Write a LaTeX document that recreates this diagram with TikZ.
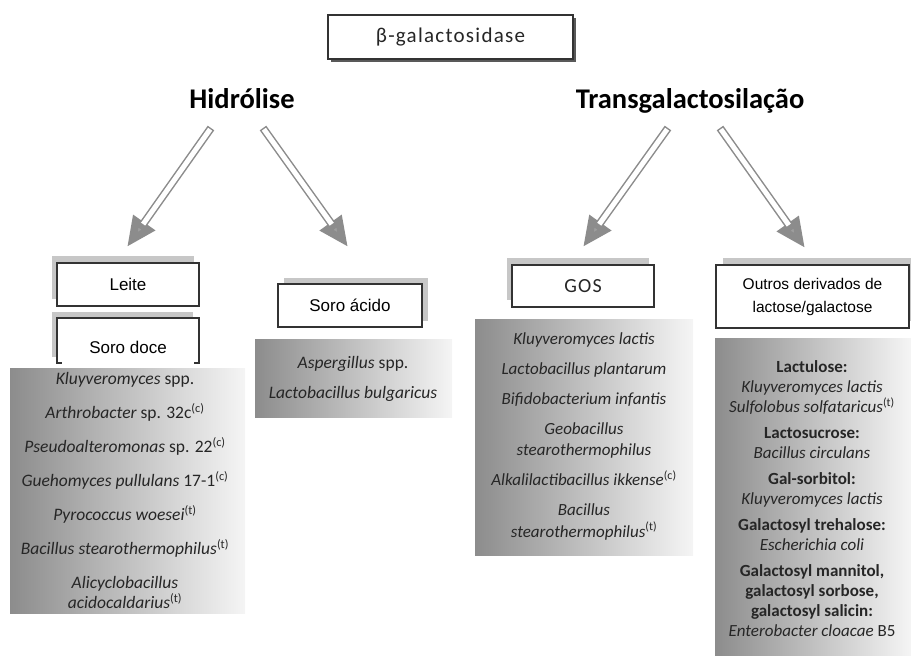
\documentclass[tikz,border=0pt]{standalone}
\usepackage{fontspec}
\setmainfont{Carlito}
\newfontfamily\arialf{Liberation Sans}
\newfontfamily\spacedf[LetterSpace=6]{Carlito}
\usetikzlibrary{arrows.meta,shadows,calc}
\begin{document}
\begin{tikzpicture}[x=1pt,y=-1pt,
  boxline/.style={draw=black!80, line width=1.6pt},
  labelbox/.style={boxline, fill=white, inner sep=0pt, font=\arialf\fontsize{17}{20}\selectfont, text=black},
  shadowul/.style={general shadow={fill=black!22, draw=none, shadow xshift=-5pt, shadow yshift=7pt}},
  shadowur/.style={general shadow={fill=black!22, draw=none, shadow xshift=6pt, shadow yshift=6pt}},
  heading/.style={font=\bfseries\fontsize{28.5}{32}\selectfont, text=black, anchor=base},
  panel/.style={draw=none, inner sep=0pt, left color=black!45, right color=black!4},
  ptext/.style={align=center, inner sep=0pt, text=black!85, font=\itshape\fontsize{17.5}{20}\selectfont},
  arrowouter/.style={draw=black!45, line width=8pt, -{Triangle[length=30pt,width=25pt,fill=black!38]}},
  arrowinner/.style={draw=white, line width=5pt, shorten >=28pt, shorten <=1.5pt}
]
\useasboundingbox (0,0) rectangle (911,659);

% top box
\node[boxline, fill=white, minimum width=245pt, minimum height=44pt, inner sep=0pt,
      general shadow={fill=black!65, draw=none, shadow xshift=3pt, shadow yshift=-3pt},
      font=\spacedf\fontsize{21}{22}\selectfont, text=black!85] (beta) at (450.5,37) {β-galactosidase};

% headings
\node[heading] (hid) at (242,108) {Hidrólise};
\node[heading] (trans) at (690,108) {Transgalactosilação};

% arrows
\coordinate (a1s) at (211,128); \coordinate (a1e) at (127,247);
\coordinate (a2s) at (263,128); \coordinate (a2e) at (348,247);
\coordinate (a3s) at (668,128); \coordinate (a3e) at (583,247);
\coordinate (a4s) at (720,128); \coordinate (a4e) at (805,248);
\foreach \s/\e in {a1s/a1e,a2s/a2e,a3s/a3e,a4s/a4e}{
  \draw[arrowouter] (\s) -- (\e);
  \draw[arrowinner] (\s) -- (\e);
}

% category boxes
\node[labelbox, shadowul, minimum width=142pt, minimum height=43pt] (leite) at (128,284.5) {Leite};
\fill[black!22] (52,312) rectangle (193,357);
\node[draw=none, fill=white, inner sep=0pt, minimum width=142pt, minimum height=45pt,
      font=\arialf\fontsize{17}{20}\selectfont] (sd) at (128,340.5) {\raisebox{-13pt}[0pt][0pt]{Soro doce}};
\draw[boxline] ($(sd.south west)+(5,0)$) -- (sd.south west) -- (sd.north west) -- (sd.north east)
   -- (sd.south east) -- ($(sd.south east)+(-5,0)$);
\node[labelbox, shadowur, minimum width=144pt, minimum height=43pt] (sa) at (350,305.5) {Soro ácido};
\node[labelbox, shadowul, minimum width=142pt, minimum height=42pt,
      font=\spacedf\fontsize{20}{22}\selectfont, text=black!85] (gos) at (583,286) {GOS};
\node[labelbox, general shadow={fill=black!22, draw=none, shadow xshift=7pt, shadow yshift=7pt},
      minimum width=193pt, minimum height=63pt, align=center,
      font=\arialf\fontsize{15.5}{23}\selectfont] (outros) at (812.5,296.5) {Outros derivados de\\lactose/galactose};

% panels
\node[panel, minimum width=235pt, minimum height=245pt] (p1) at (127.5,490.5) {};
\node[ptext] (t1) at (125,490.5) {%
Kluyveromyces \upshape spp.\\[14pt]
Arthrobacter \upshape sp. 32c\textsuperscript{(c)}\\[14pt]
Pseudoalteromonas \upshape sp. 22\textsuperscript{(c)}\\[14pt]
Guehomyces pullulans \upshape 17-1\textsuperscript{(c)}\\[14pt]
Pyrococcus woesei\textsuperscript{\upshape(t)}\\[14pt]
Bacillus stearothermophilus\textsuperscript{\upshape(t)}\\[14pt]
Alicyclobacillus\\
acidocaldarius\textsuperscript{\upshape(t)}};

\node[panel, minimum width=197pt, minimum height=78pt] (p2) at (353.5,378) {};
\node[ptext] (t2) at (353,379) {%
Aspergillus \upshape spp.\\[10pt]
Lactobacillus bulgaricus};

\node[panel, minimum width=218pt, minimum height=236pt] (p3) at (584,437) {};
\node[ptext, font=\itshape\fontsize{17}{21.5}\selectfont] (t3) at (584,436) {%
Kluyveromyces lactis\\[8.5pt]
Lactobacillus plantarum\\[8.5pt]
Bifidobacterium infantis\\[8.5pt]
Geobacillus\\
stearothermophilus\\[8.5pt]
Alkalilactibacillus ikkense\textsuperscript{\upshape(c)}\\[8.5pt]
Bacillus\\
stearothermophilus\textsuperscript{\upshape(t)}};

\node[panel, minimum width=196pt, minimum height=317pt] (p4) at (813,496.5) {};
\node[ptext, font=\itshape\fontsize{17}{20}\selectfont] (t4) at (812,498.5) {%
{\upshape\bfseries Lactulose:}\\
Kluyveromyces lactis\\
Sulfolobus solfataricus\textsuperscript{\upshape(t)}\\[6pt]
{\upshape\bfseries Lactosucrose:}\\
Bacillus circulans\\[6pt]
{\upshape\bfseries Gal-sorbitol:}\\
Kluyveromyces lactis\\[6pt]
{\upshape\bfseries Galactosyl trehalose:}\\
Escherichia coli\\[6pt]
{\upshape\bfseries Galactosyl mannitol,}\\
{\upshape\bfseries galactosyl sorbose,}\\
{\upshape\bfseries galactosyl salicin:}\\
Enterobacter cloacae \upshape B5};
\end{tikzpicture}
\end{document}
